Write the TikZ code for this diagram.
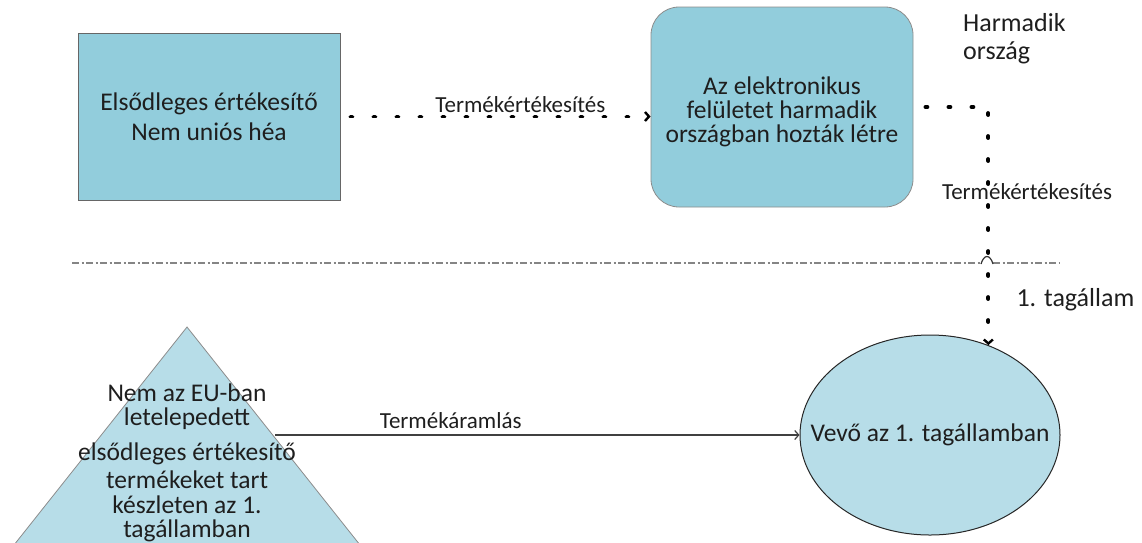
\documentclass[tikz,border=0pt]{standalone}
\usepackage{fontspec}
\setmainfont{Carlito}
\usetikzlibrary{arrows.meta,shapes.geometric}
\definecolor{boxblue}{HTML}{92CDDC}
\definecolor{paleblue}{HTML}{B7DDE8}
\definecolor{ink}{HTML}{1E1E1E}
\definecolor{rulegrey}{HTML}{858585}
\begin{document}
\begin{tikzpicture}[x=1pt,y=-1pt,
  every node/.style={text=ink},
  boxtext/.style={font=\fontsize{25.5}{24}\selectfont, align=center},
  smalltext/.style={font=\fontsize{23}{24}\selectfont},
  sidetext/.style={font=\fontsize{26}{28}\selectfont},
  dotline/.style={draw=black, line width=3.8pt, line cap=round, dash pattern=on 2pt off 21pt},
  chevron/.style={-{Straight Barb[length=4pt,width=9pt,line width=2.4pt]}},
  flow/.style={draw=black!75, line width=1.2pt, -{Straight Barb[length=4pt,width=9pt,line width=1.2pt]}},
  borderline/.style={rulegrey, line width=2pt, dash pattern=on 7pt off 2.5pt on 2pt off 2.5pt},
]
\useasboundingbox (0,0) rectangle (1142,542);

% seller outside the EU
\node[draw=black!60, line width=0.8pt, fill=boxblue, minimum width=262pt, minimum height=167pt,
      inner sep=0pt, boxtext, font=\fontsize{25.5}{30}\selectfont] (seller) at (209,116.5)
      {Elsődleges értékesítő\\Nem uniós héa};

% electronic interface
\node[draw=black!45, line width=0.8pt, fill=boxblue, rounded corners=28pt, minimum width=262pt,
      minimum height=200pt, inner sep=0pt,
      label={[boxtext, inner sep=0pt, yshift=-5pt]center:{Az elektronikus\\felületet harmadik\\országban hozták létre}}]
      (platform) at (782,107) {};

\node[sidetext, align=left, anchor=north west, inner sep=0pt] (third) at (963,13)
      {Harmadik\\ország};

% border between third country and member state, with a hop over the dotted line
\draw[borderline] (72,263) -- (981,263);
\draw[borderline] (993,263) -- (1060,263);
\draw[black!80, line width=1.2pt] (981,264) .. controls (984,254) and (990,254) .. (993,264);

% stock held in member state 1
\begin{scope}
  \clip (0,0) rectangle (1142,542);
  \filldraw[fill=paleblue, draw=black!45, line width=0.8pt]
    (10,550) -- (187,327) -- (364,550);
\end{scope}
\node[boxtext, inner sep=0pt] (stock) at (187,463)
      {Nem az EU-ban\\letelepedett\\[11pt]elsődleges értékesítő\\[4pt]termékeket tart\\[1pt]készleten az 1.\\[0pt]tagállamban};
\coordinate (stock-out) at (275,435);

% customer
\node[ellipse, draw=black!85, line width=1pt, fill=paleblue, minimum width=260pt, minimum height=200pt,
      inner sep=0pt, label={[boxtext, inner sep=0pt]center:Vevő az 1. tagállamban}]
      (buyer) at (930,435) {};

% connectors
\draw[dotline, chevron, shorten <=10pt] (seller.east) -- (seller.east -| platform.west)
  node[smalltext, pos=0.58, anchor=base, yshift=4pt] (sale1) {Termékértékesítés};

\draw[dotline, chevron, shorten <=12pt] (platform.east) -- (buyer.57.7 |- platform.east) -- (buyer.57.7);
\node[smalltext, anchor=base] (sale2) at (1027,199) {Termékértékesítés};
\node[sidetext, anchor=base west] (ms1) at (1013,306) {1. tagállam};

\draw[flow] (stock-out) -- (buyer.west)
  node[smalltext, pos=0.335, anchor=base, yshift=7pt] (flowlbl) {Termékáramlás};
\end{tikzpicture}
\end{document}
